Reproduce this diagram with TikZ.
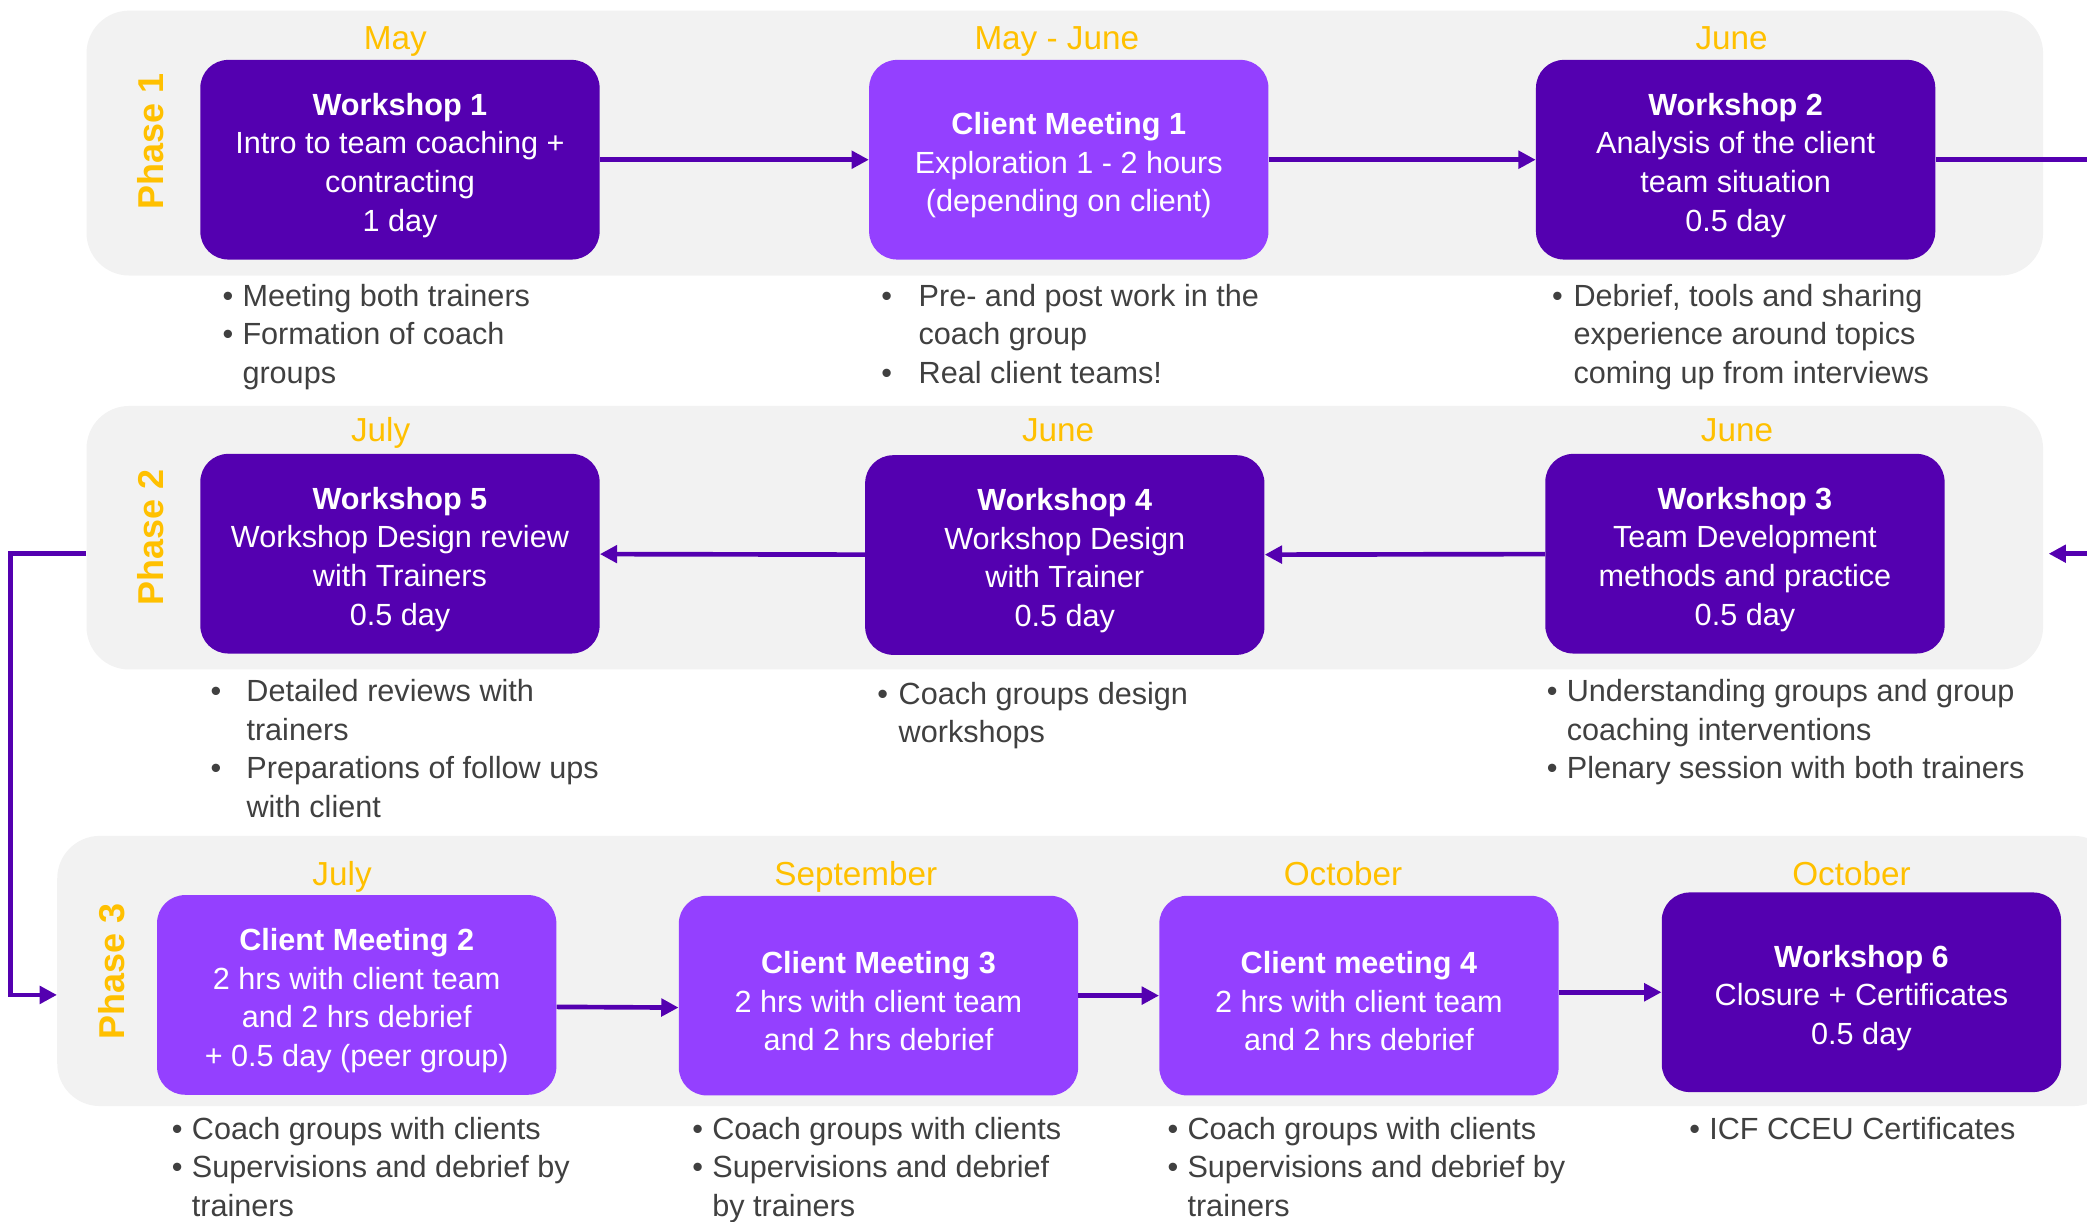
\documentclass[tikz,border=0pt]{standalone}
\usepackage{fontspec}
\setmainfont{Liberation Sans}
\usetikzlibrary{arrows.meta,positioning}
\definecolor{cDk}{HTML}{5400B0}
\definecolor{cLt}{HTML}{9440FF}
\definecolor{cYl}{HTML}{FFC000}
\definecolor{cBg}{HTML}{F2F2F2}
\definecolor{cTx}{HTML}{404040}
\newcommand\ndot[1][15pt]{\makebox[#1][l]{\textbullet}}
\newcommand\nind[1][15pt]{\hspace*{#1}}
\newcommand\ttl[1]{\rule{0pt}{25pt}\textbf{#1}}

\begin{document}
\begin{tikzpicture}[x=1pt,y=-1pt,
  panel/.style={fill=cBg,rounded corners=32pt,inner sep=0},
  box/.style={rounded corners=21pt,minimum width=300pt,minimum height=150pt,
    inner sep=0,align=center,text=white,font=\fontsize{23}{29}\selectfont},
  dk/.style={fill=cDk},
  lt/.style={fill=cLt},
  month/.style={text=cYl,anchor=base,font=\fontsize{25}{30}\selectfont},
  phase/.style={text=cYl,rotate=90,font=\fontsize{27}{32}\selectfont\bfseries},
  note/.style={text=cTx,anchor=base west,inner sep=0,align=left,
    font=\fontsize{23}{29}\selectfont},
  arr/.style={draw=cDk,line width=3.5pt,-{Triangle[length=13pt,width=13pt]}},
  lin/.style={draw=cDk,line width=3.5pt}]
  \useasboundingbox (0,0) rectangle (1568,918);
  \clip (0,0) rectangle (1568,918);
  % phase panels
  \node[panel,minimum width=1470pt,minimum height=199pt] (ph1) at (800,107.5) {};
  \node[panel,minimum width=1470pt,minimum height=198pt] (ph2) at (800,404) {};
  \node[panel,minimum width=1547pt,minimum height=203pt] (ph3) at (816.5,729.5) {};
  \foreach \n/\x/\y in {1/113/106,2/113/404,3/84/730}
    \node[phase] (lab\n) at (\x,\y) {Phase \n};
  % months
  \foreach \x/\y/\t [count=\i] in {297/37/May,794/37/May - June,1301/37/June,
      286/332/July,795/332/June,1305/332/June,
      257/665/July,643/665/September,1009/665/October,1391/665/October}
    \node[month] (m\i) at (\x,\y) {\t};
  % row 1
  \node[box,dk] (w1) at (300.5,120) {\ttl{Workshop 1}\\Intro to team coaching +\\contracting\\1 day};
  \node[box,lt] (cm1) at (803,120) {\ttl{Client Meeting 1}\\Exploration 1 - 2 hours\\(depending on client)};
  \node[box,dk] (w2) at (1304,120) {\ttl{Workshop 2}\\Analysis of the client\\team situation\\0.5 day};
  % row 2
  \node[box,dk] (w5) at (300.5,416) {\ttl{Workshop 5}\\Workshop Design review\\with Trainers\\0.5 day};
  \node[box,dk] (w4) at (800,417) {\ttl{Workshop 4}\\Workshop Design\\with Trainer\\0.5 day};
  \node[box,dk] (w3) at (1311,416) {\ttl{Workshop 3}\\Team Development\\methods and practice\\0.5 day};
  % row 3
  \node[box,lt] (cm2) at (268,747.5) {\ttl{Client Meeting 2}\\2 hrs with client team\\and 2 hrs debrief\\+ 0.5 day (peer group)};
  \node[box,lt] (cm3) at (660,748) {\ttl{Client Meeting 3}\\2 hrs with client team\\and 2 hrs debrief};
  \node[box,lt] (cm4) at (1021,748) {\ttl{Client meeting 4}\\2 hrs with client team\\and 2 hrs debrief};
  \node[box,dk] (w6) at (1398.5,745.5) {\ttl{Workshop 6}\\Closure + Certificates\\0.5 day};
  % notes (placed at the baseline of their last line)
  \node[note] (n1) at (167,288) {\ndot Meeting both trainers\\\ndot Formation of coach\\\nind groups};
  \node[note] (n2) at (662,288) {\ndot[28pt]Pre- and post work in the\\\nind[28pt]coach group\\\ndot[28pt]Real client teams!};
  \node[note] (n3) at (1166,288) {\ndot[16pt]Debrief, tools and sharing\\\nind[16pt]experience around topics\\\nind[16pt]coming up from interviews};
  \node[note] (n4) at (158,614) {\ndot[27pt]Detailed reviews with\\\nind[27pt]trainers\\\ndot[27pt]Preparations of follow ups\\\nind[27pt]with client};
  \node[note] (n5) at (659,558) {\ndot[16pt]Coach groups design\\\nind[16pt]workshops};
  \node[note] (n6) at (1162,585) {\ndot Understanding groups and group\\\nind coaching interventions\\\ndot Plenary session with both trainers};
  \node[note] (n7) at (129,914) {\ndot Coach groups with clients\\\ndot Supervisions and debrief by\\\nind trainers};
  \node[note] (n8) at (520,914) {\ndot Coach groups with clients\\\ndot Supervisions and debrief\\\nind by trainers};
  \node[note] (n9) at (877,914) {\ndot Coach groups with clients\\\ndot Supervisions and debrief by\\\nind trainers};
  \node[note] (n10) at (1269,856) {\ndot ICF CCEU Certificates};
  % connectors
  \coordinate (out1) at (1600,120);
  \coordinate (in2) at (1600,416);
  \draw[arr] (w1) -- (cm1);
  \draw[arr] (cm1) -- (w2);
  \draw[lin] (w2) -- (out1);
  \draw[arr] (in2) -- ([xshift=4pt]ph2.east |- w3);
  \draw[arr] (w3) -- (w4);
  \draw[arr] (w4) -- (w5);
  \draw[arr] (ph2.west |- w5) -- ++(-57,0) |- (ph3.west |- cm2);
  \draw[arr] ([yshift=-9pt]cm2.east) -- ([yshift=-9pt]cm3.west);
  \draw[arr] (cm3) -- (cm4);
  \draw[arr] (cm4.east |- w6) -- (w6);
\end{tikzpicture}
\end{document}
